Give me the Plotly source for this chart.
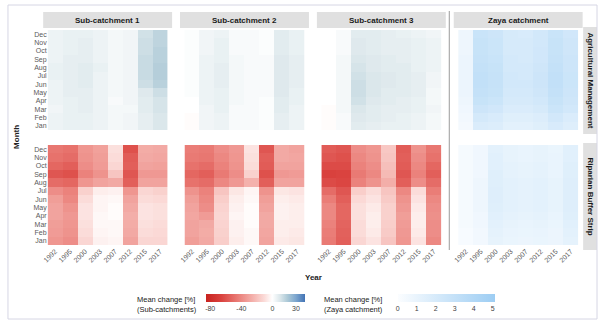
import plotly.graph_objects as go

W, H = 600, 322

years = ["1992", "1995", "2000", "2003", "2007", "2012", "2015", "2017"]
months = ["Jan", "Feb", "Mar", "Apr", "May", "Jun", "Jul", "Aug", "Sep", "Oct", "Nov", "Dec"]
catchments = ["Sub-catchment 1", "Sub-catchment 2", "Sub-catchment 3", "Zaya catchment"]
scenarios = ["Agricultural Management", "Riparian Buffer Strip"]

# Mean change [%] per month (rows Jan..Dec) and year (columns)
am_sub1 = [
    [5, 6, 6, 5, 3, 4, 7, 10],
    [5, 6, 6, 5, 3, 4, 7, 10],
    [4, 6, 7, 5, 3, 3, 8, 11],
    [5, 6, 7, 5, 2, 4, 8, 11],
    [5, 7, 7, 5, 3, 4, 9, 13],
    [5, 7, 8, 5, 3, 4, 13, 17],
    [6, 7, 8, 5, 3, 4, 14, 18],
    [6, 7, 8, 6, 3, 4, 14, 18],
    [5, 7, 7, 5, 3, 4, 14, 17],
    [5, 6, 7, 5, 3, 4, 13, 17],
    [5, 6, 7, 5, 3, 4, 13, 16],
    [5, 6, 6, 5, 3, 4, 12, 16],
]
am_sub2 = [
    [-1, 4, 5, 2, 2, 1, 7, 5],
    [-1, 4, 5, 2, 2, 1, 7, 5],
    [0, 4, 6, 2, 2, 1, 8, 5],
    [0, 5, 6, 3, 2, 1, 8, 6],
    [1, 5, 6, 3, 2, 2, 9, 6],
    [1, 5, 7, 3, 2, 2, 9, 7],
    [1, 5, 7, 3, 2, 2, 9, 7],
    [1, 5, 7, 3, 2, 2, 9, 7],
    [1, 5, 6, 3, 2, 2, 9, 7],
    [1, 4, 6, 2, 2, 1, 8, 6],
    [1, 4, 6, 2, 2, 1, 8, 6],
    [1, 4, 5, 2, 2, 1, 8, 6],
]
am_sub3 = [
    [-1, 2, 8, 7, 6, 6, 5, 3],
    [-1, 2, 9, 8, 7, 6, 5, 3],
    [-1, 3, 10, 8, 7, 7, 6, 4],
    [0, 3, 12, 9, 8, 7, 6, 3],
    [0, 3, 13, 10, 8, 8, 7, 3],
    [0, 3, 13, 10, 9, 8, 7, 4],
    [0, 3, 12, 10, 9, 8, 7, 4],
    [0, 3, 11, 9, 8, 8, 6, 5],
    [0, 3, 10, 9, 8, 7, 6, 5],
    [0, 2, 9, 8, 7, 7, 6, 5],
    [0, 2, 9, 8, 7, 7, 6, 5],
    [0, 2, 8, 8, 7, 6, 5, 4],
]
am_zaya = [
    [0.4, 1.8, 1.7, 1.3, 1.3, 1.5, 1.9, 1.6],
    [0.5, 2.1, 1.9, 1.5, 1.5, 1.7, 2.2, 1.8],
    [0.6, 2.5, 2.3, 1.8, 1.8, 2.0, 2.6, 2.2],
    [0.7, 2.8, 2.6, 2.0, 2.0, 2.2, 2.8, 2.4],
    [0.8, 3.0, 2.8, 2.1, 2.1, 2.4, 3.0, 2.5],
    [0.8, 3.1, 2.9, 2.2, 2.2, 2.5, 3.1, 2.6],
    [0.8, 3.1, 2.9, 2.2, 2.1, 2.5, 3.1, 2.6],
    [0.8, 3.0, 2.8, 2.1, 2.1, 2.4, 3.0, 2.5],
    [0.8, 2.9, 2.7, 2.1, 2.0, 2.3, 2.9, 2.5],
    [0.7, 2.8, 2.6, 2.0, 2.0, 2.3, 2.8, 2.4],
    [0.7, 2.8, 2.6, 2.0, 2.0, 2.2, 2.8, 2.4],
    [0.7, 2.7, 2.5, 2.0, 1.9, 2.2, 2.7, 2.3],
]
rb_sub1 = [
    [-35, -38, -12, -4, -3, -30, -12, -12],
    [-33, -36, -10, -3, -2, -28, -10, -11],
    [-32, -35, -9, -2, -2, -27, -9, -10],
    [-30, -34, -8, -2, -1, -26, -8, -9],
    [-30, -36, -8, -3, -1, -28, -8, -9],
    [-32, -40, -10, -3, -2, -30, -10, -11],
    [-38, -42, -14, -5, -4, -35, -12, -14],
    [-50, -52, -35, -30, -28, -55, -30, -30],
    [-58, -60, -42, -36, -18, -58, -34, -34],
    [-52, -55, -38, -33, -12, -55, -30, -31],
    [-48, -50, -36, -32, -10, -56, -28, -29],
    [-46, -48, -35, -31, -9, -60, -27, -28],
]
rb_sub2 = [
    [-32, -28, -15, -5, -2, -30, -6, -7],
    [-30, -27, -14, -4, -2, -29, -5, -6],
    [-30, -28, -13, -4, -1, -28, -5, -5],
    [-29, -33, -12, -3, -1, -28, -4, -5],
    [-30, -38, -13, -4, -1, -30, -4, -5],
    [-32, -40, -15, -5, -2, -32, -5, -6],
    [-36, -42, -18, -7, -3, -36, -7, -8],
    [-48, -50, -40, -34, -25, -55, -30, -30],
    [-52, -55, -45, -38, -14, -60, -34, -33],
    [-48, -50, -42, -36, -10, -56, -30, -30],
    [-45, -46, -40, -35, -9, -55, -28, -29],
    [-44, -45, -38, -34, -8, -58, -28, -30],
]
rb_sub3 = [
    [-45, -55, -12, -8, -18, -35, -8, -40],
    [-44, -54, -10, -6, -16, -34, -6, -38],
    [-42, -53, -10, -5, -15, -33, -5, -38],
    [-40, -52, -9, -5, -14, -32, -5, -37],
    [-40, -52, -9, -6, -14, -34, -6, -38],
    [-44, -55, -11, -8, -16, -36, -8, -40],
    [-50, -58, -15, -10, -18, -40, -10, -44],
    [-62, -64, -42, -36, -26, -55, -38, -50],
    [-66, -65, -45, -40, -22, -58, -42, -55],
    [-62, -62, -42, -38, -20, -56, -40, -52],
    [-58, -60, -40, -36, -18, -55, -38, -48],
    [-56, -58, -38, -35, -17, -56, -36, -46],
]
rb_zaya = [
    [0.2, 0.5, 1.1, 0.9, 0.8, 0.9, 0.8, 1.2],
    [0.2, 0.5, 1.2, 1.0, 0.9, 1.0, 0.8, 1.3],
    [0.3, 0.6, 1.3, 1.1, 1.0, 1.1, 0.9, 1.4],
    [0.3, 0.6, 1.4, 1.2, 1.1, 1.2, 1.0, 1.5],
    [0.3, 0.7, 1.5, 1.3, 1.2, 1.3, 1.1, 1.6],
    [0.3, 0.7, 1.6, 1.3, 1.2, 1.3, 1.1, 1.6],
    [0.3, 0.7, 1.6, 1.3, 1.2, 1.3, 1.1, 1.6],
    [0.3, 0.7, 1.5, 1.3, 1.2, 1.3, 1.1, 1.6],
    [0.3, 0.6, 1.5, 1.2, 1.1, 1.2, 1.0, 1.5],
    [0.3, 0.6, 1.4, 1.2, 1.1, 1.2, 1.0, 1.5],
    [0.3, 0.6, 1.4, 1.1, 1.0, 1.1, 1.0, 1.4],
    [0.3, 0.6, 1.3, 1.1, 1.0, 1.1, 0.9, 1.4],
]

panels = [
    [am_sub1, am_sub2, am_sub3, am_zaya],
    [rb_sub1, rb_sub2, rb_sub3, rb_zaya],
]

sub_ticks = [-80, -40, 0, 30]
sub_tick_text = ["-80", "-40", "0", "30"]
zaya_ticks = [0, 1, 2, 3, 4, 5]
SUB_MIN, SUB_MAX = -85, 42
ZAYA_MIN, ZAYA_MAX = 0, 5.1

FONT = "Liberation Sans"


def px(x):
    return x / W


def py(y):
    return 1 - y / H


def norm(v):
    return (v - SUB_MIN) / (SUB_MAX - SUB_MIN)


sub_scale = [
    [norm(-85), "#c8231f"],
    [norm(-65), "#da433f"],
    [norm(-45), "#e97a74"],
    [norm(-25), "#f4b1ac"],
    [norm(-10), "#fbdcd9"],
    [norm(0), "#ffffff"],
    [norm(10), "#dbe7eb"],
    [norm(20), "#abc8d6"],
    [norm(30), "#7ea7cf"],
    [norm(42), "#4374b5"],
]
zaya_scale = [[0, "#fbfdff"], [1, "#9dcdf3"]]

# panel pixel boxes
col_left = [43, 181, 319, 457]
col_w = 121
row_top = [30, 145]
row_h = 100

fig = go.Figure()
layout = {}
k = 0
for r in range(2):
    for c in range(4):
        k += 1
        xa = "x" if k == 1 else f"x{k}"
        ya = "y" if k == 1 else f"y{k}"
        fig.add_trace(go.Heatmap(
            z=panels[r][c], x=years, y=months,
            coloraxis="coloraxis2" if c == 3 else "coloraxis",
            xaxis=xa, yaxis=ya, hoverinfo="skip",
        ))
        xkey = "xaxis" if k == 1 else f"xaxis{k}"
        ykey = "yaxis" if k == 1 else f"yaxis{k}"
        layout[xkey] = dict(
            domain=[px(col_left[c]), px(col_left[c] + col_w)],
            anchor=ya, type="category", categoryorder="array", categoryarray=years,
            range=[-0.5, 7.5], showgrid=False, zeroline=False, showline=False,
            ticks="", showticklabels=(r == 1), tickangle=-45,
            tickfont=dict(family=FONT, size=7, color="#5a5a5a"),
            fixedrange=True,
        )
        layout[ykey] = dict(
            domain=[py(row_top[r] + row_h), py(row_top[r])],
            anchor=xa, type="category", categoryorder="array", categoryarray=months,
            range=[-0.5, 11.5], showgrid=False, zeroline=False, showline=False,
            ticks="", showticklabels=(c == 0),
            tickfont=dict(family=FONT, size=7, color="#5a5a5a"),
            fixedrange=True,
        )

shapes = []
annotations = []

# outer frame
shapes.append(dict(type="rect", xref="paper", yref="paper",
                   x0=px(3), x1=px(597), y0=py(319), y1=py(5),
                   line=dict(color="#d6d6e4", width=1), fillcolor="rgba(0,0,0,0)"))
# divider between the sub-catchments block and the Zaya block
shapes.append(dict(type="line", xref="paper", yref="paper",
                   x0=px(448), x1=px(448), y0=py(250), y1=py(11),
                   line=dict(color="#9a9a9a", width=1)))

# top strips
for c, name in enumerate(catchments):
    cx = col_left[c] + col_w / 2
    shapes.append(dict(type="rect", xref="paper", yref="paper",
                       x0=px(cx - 65), x1=px(cx + 65), y0=py(28), y1=py(12),
                       line=dict(width=0), fillcolor="#e0e0e0", layer="below"))
    annotations.append(dict(x=px(cx), y=py(20), xref="paper", yref="paper",
                            text=f"<b>{name}</b>", showarrow=False,
                            font=dict(family=FONT, size=8, color="#1a1a1a"),
                            xanchor="center", yanchor="middle"))

# right strips
strip_rows = [(27, 134), (143, 250)]
for r, name in enumerate(scenarios):
    y0, y1 = strip_rows[r]
    shapes.append(dict(type="rect", xref="paper", yref="paper",
                       x0=px(583), x1=px(597), y0=py(y1), y1=py(y0),
                       line=dict(width=0), fillcolor="#e0e0e0", layer="below"))
    annotations.append(dict(x=px(590), y=py((y0 + y1) / 2), xref="paper", yref="paper",
                            text=f"<b>{name}</b>", showarrow=False, textangle=90,
                            font=dict(family=FONT, size=8, color="#1a1a1a"),
                            xanchor="center", yanchor="middle"))

# axis titles
annotations.append(dict(x=px(11), y=py(137), xref="paper", yref="paper",
                        text="<b>Month</b>", showarrow=False, textangle=-90,
                        font=dict(family=FONT, size=8, color="#222222"),
                        xanchor="center", yanchor="middle"))
annotations.append(dict(x=px(311), y=py(277), xref="paper", yref="paper",
                        text="<b>Year</b>", showarrow=False,
                        font=dict(family=FONT, size=8, color="#222222"),
                        xanchor="center", yanchor="middle"))

# colourbar titles
annotations.append(dict(x=px(131), y=py(304), xref="paper", yref="paper",
                        text="Mean change [%]<br>(Sub-catchments)", showarrow=False,
                        align="left", font=dict(family=FONT, size=7.5, color="#222222"),
                        xanchor="left", yanchor="middle"))
annotations.append(dict(x=px(320), y=py(304), xref="paper", yref="paper",
                        text="Mean change [%]<br>(Zaya catchment)", showarrow=False,
                        align="left", font=dict(family=FONT, size=7.5, color="#222222"),
                        xanchor="left", yanchor="middle"))

cb_common = dict(orientation="h", thickness=8, thicknessmode="pixels",
                 lenmode="fraction", xanchor="left", yanchor="top",
                 xpad=0, ypad=0, outlinewidth=0, ticks="",
                 tickfont=dict(family=FONT, size=7, color="#444444"))

layout.update(
    width=W, height=H,
    margin=dict(l=0, r=0, t=0, b=0),
    paper_bgcolor="white", plot_bgcolor="white",
    showlegend=False,
    shapes=shapes, annotations=annotations,
    coloraxis=dict(cmin=SUB_MIN, cmax=SUB_MAX, colorscale=sub_scale,
                   colorbar=dict(x=px(203), y=py(294), len=100 / W,
                                 tickvals=sub_ticks, ticktext=sub_tick_text,
                                 **cb_common)),
    coloraxis2=dict(cmin=ZAYA_MIN, cmax=ZAYA_MAX, colorscale=zaya_scale,
                    colorbar=dict(x=px(396), y=py(294), len=98 / W,
                                  tickvals=zaya_ticks, **cb_common)),
)
fig.update_layout(**layout)
fig.write_html("out.html")
